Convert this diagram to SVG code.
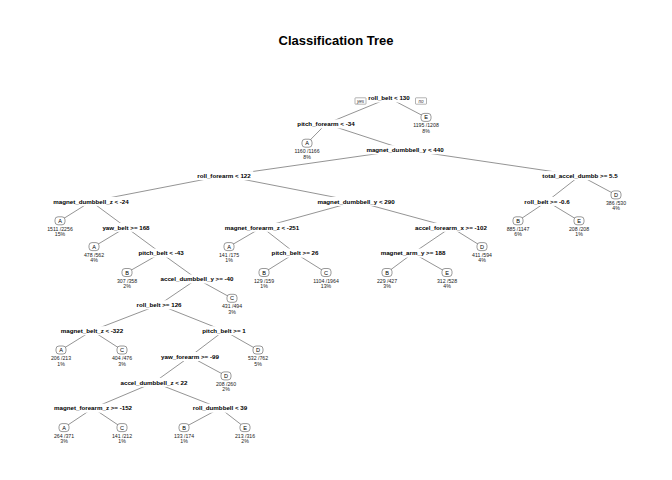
<svg xmlns="http://www.w3.org/2000/svg" width="672" height="480" viewBox="0 0 672 480">
  <style>
    .title { font: bold 13px "Liberation Sans", Arial, sans-serif; text-anchor: middle; fill: #000; }
    .edge { stroke: #666; stroke-width: 0.7; fill: none; }
    .mask { fill: #fff; }
    .split { font: bold 6.2px "Liberation Sans", Arial, sans-serif; text-anchor: middle; fill: #000; }
    .box { fill: #fff; stroke: #555; stroke-width: 0.6; }
    .cls { font: 5.6px "Liberation Sans", Arial, sans-serif; text-anchor: middle; fill: #000; }
    .info { font: 5.2px "Liberation Sans", Arial, sans-serif; text-anchor: middle; fill: #222; }
    .yn { fill: #fff; stroke: #666; stroke-width: 0.5; }
    .yntext { font: italic 4.6px "Liberation Sans", Arial, sans-serif; text-anchor: middle; fill: #333; }
  </style>

  <rect width="672" height="480" fill="#fff"/>
  <text class="title" x="336" y="45">Classification Tree</text>

  <!-- branches: centre to centre, hidden under the label backgrounds -->
  <g id="connectors">
    <line class="edge" x1="389" y1="98" x2="326" y2="123.9"/>
    <line class="edge" x1="389" y1="98" x2="426" y2="117.4"/>
    <line class="edge" x1="326" y1="123.9" x2="307" y2="143.2"/>
    <line class="edge" x1="326" y1="123.9" x2="405" y2="149.7"/>
    <line class="edge" x1="405" y1="149.7" x2="224" y2="175.6"/>
    <line class="edge" x1="405" y1="149.7" x2="580" y2="175.6"/>
    <line class="edge" x1="224" y1="175.6" x2="91" y2="201.4"/>
    <line class="edge" x1="224" y1="175.6" x2="356" y2="201.4"/>
    <line class="edge" x1="580" y1="175.6" x2="547" y2="201.4"/>
    <line class="edge" x1="580" y1="175.6" x2="616" y2="194.9"/>
    <line class="edge" x1="91" y1="201.4" x2="60" y2="220.8"/>
    <line class="edge" x1="91" y1="201.4" x2="126" y2="227.3"/>
    <line class="edge" x1="356" y1="201.4" x2="262" y2="227.3"/>
    <line class="edge" x1="356" y1="201.4" x2="451" y2="227.3"/>
    <line class="edge" x1="547" y1="201.4" x2="518" y2="220.8"/>
    <line class="edge" x1="547" y1="201.4" x2="579" y2="220.8"/>
    <line class="edge" x1="126" y1="227.3" x2="94" y2="246.6"/>
    <line class="edge" x1="126" y1="227.3" x2="161" y2="253.1"/>
    <line class="edge" x1="262" y1="227.3" x2="229" y2="246.6"/>
    <line class="edge" x1="262" y1="227.3" x2="295" y2="253.1"/>
    <line class="edge" x1="451" y1="227.3" x2="413" y2="253.1"/>
    <line class="edge" x1="451" y1="227.3" x2="482" y2="246.6"/>
    <line class="edge" x1="161" y1="253.1" x2="127" y2="272.5"/>
    <line class="edge" x1="161" y1="253.1" x2="197" y2="279"/>
    <line class="edge" x1="295" y1="253.1" x2="264" y2="272.5"/>
    <line class="edge" x1="295" y1="253.1" x2="326" y2="272.5"/>
    <line class="edge" x1="413" y1="253.1" x2="387" y2="272.5"/>
    <line class="edge" x1="413" y1="253.1" x2="447" y2="272.5"/>
    <line class="edge" x1="197" y1="279" x2="159" y2="304.8"/>
    <line class="edge" x1="197" y1="279" x2="232" y2="298.3"/>
    <line class="edge" x1="159" y1="304.8" x2="92" y2="330.7"/>
    <line class="edge" x1="159" y1="304.8" x2="224" y2="330.7"/>
    <line class="edge" x1="92" y1="330.7" x2="61" y2="350"/>
    <line class="edge" x1="92" y1="330.7" x2="122" y2="350"/>
    <line class="edge" x1="224" y1="330.7" x2="190" y2="356.5"/>
    <line class="edge" x1="224" y1="330.7" x2="258" y2="350"/>
    <line class="edge" x1="190" y1="356.5" x2="154" y2="382.4"/>
    <line class="edge" x1="190" y1="356.5" x2="226" y2="375.9"/>
    <line class="edge" x1="154" y1="382.4" x2="93" y2="408.2"/>
    <line class="edge" x1="154" y1="382.4" x2="220" y2="408.2"/>
    <line class="edge" x1="93" y1="408.2" x2="64" y2="427.6"/>
    <line class="edge" x1="93" y1="408.2" x2="122" y2="427.6"/>
    <line class="edge" x1="220" y1="408.2" x2="184" y2="427.6"/>
    <line class="edge" x1="220" y1="408.2" x2="245" y2="427.6"/>
  </g>

  <!-- split nodes -->
  <g id="split-roll-belt-130"><rect class="mask" x="365.75" y="93.5" width="46.5" height="9"/><text class="split" x="389" y="100.2">roll_belt &lt; 130</text></g>
  <g id="split-pitch-forearm"><rect class="mask" x="294.8" y="119.4" width="62.4" height="9"/><text class="split" x="326" y="126.1">pitch_forearm &lt; -34</text></g>
  <g id="split-magnet-dumbbell-y-440"><rect class="mask" x="363.8" y="145.2" width="82.4" height="9"/><text class="split" x="405" y="151.9">magnet_dumbbell_y &lt; 440</text></g>
  <g id="split-roll-forearm"><rect class="mask" x="194.7" y="171.1" width="58.6" height="9"/><text class="split" x="224" y="177.8">roll_forearm &lt; 122</text></g>
  <g id="split-total-accel"><rect class="mask" x="539.75" y="171.1" width="80.5" height="9"/><text class="split" x="580" y="177.8">total_accel_dumbb &gt;= 5.5</text></g>
  <g id="split-magnet-dumbbell-z"><rect class="mask" x="50.7" y="196.9" width="80.6" height="9"/><text class="split" x="91" y="203.6">magnet_dumbbell_z &lt; -24</text></g>
  <g id="split-magnet-dumbbell-y-290"><rect class="mask" x="314.8" y="196.9" width="82.4" height="9"/><text class="split" x="356" y="203.6">magnet_dumbbell_y &lt; 290</text></g>
  <g id="split-roll-belt-neg"><rect class="mask" x="521.75" y="196.9" width="50.5" height="9"/><text class="split" x="547" y="203.6">roll_belt &gt;= -0.6</text></g>
  <g id="split-yaw-belt"><rect class="mask" x="99.9" y="222.8" width="52.2" height="9"/><text class="split" x="126" y="229.5">yaw_belt &gt;= 168</text></g>
  <g id="split-magnet-forearm-z-251"><rect class="mask" x="222.2" y="222.8" width="79.6" height="9"/><text class="split" x="262" y="229.5">magnet_forearm_z &lt; -251</text></g>
  <g id="split-accel-forearm-x"><rect class="mask" x="412.5" y="222.8" width="77" height="9"/><text class="split" x="451" y="229.5">accel_forearm_x &gt;= -102</text></g>
  <g id="split-pitch-belt-43"><rect class="mask" x="135.85" y="248.6" width="50.3" height="9"/><text class="split" x="161" y="255.3">pitch_belt &lt; -43</text></g>
  <g id="split-pitch-belt-26"><rect class="mask" x="269.05" y="248.6" width="51.9" height="9"/><text class="split" x="295" y="255.3">pitch_belt &gt;= 26</text></g>
  <g id="split-magnet-arm-y"><rect class="mask" x="378.1" y="248.6" width="69.8" height="9"/><text class="split" x="413" y="255.3">magnet_arm_y &gt;= 188</text></g>
  <g id="split-accel-dumbbell-y"><rect class="mask" x="157.95" y="274.5" width="78.1" height="9"/><text class="split" x="197" y="281.2">accel_dumbbell_y &gt;= -40</text></g>
  <g id="split-roll-belt-126"><rect class="mask" x="133.95" y="300.3" width="50.1" height="9"/><text class="split" x="159" y="307">roll_belt &gt;= 126</text></g>
  <g id="split-magnet-belt-z"><rect class="mask" x="58.25" y="326.2" width="67.5" height="9"/><text class="split" x="92" y="332.9">magnet_belt_z &lt; -322</text></g>
  <g id="split-pitch-belt-1"><rect class="mask" x="199.8" y="326.2" width="48.4" height="9"/><text class="split" x="224" y="332.9">pitch_belt &gt;= 1</text></g>
  <g id="split-yaw-forearm"><rect class="mask" x="158.55" y="352" width="62.9" height="9"/><text class="split" x="190" y="358.7">yaw_forearm &gt;= -99</text></g>
  <g id="split-accel-dumbbell-z"><rect class="mask" x="118" y="377.9" width="72" height="9"/><text class="split" x="154" y="384.6">accel_dumbbell_z &lt; 22</text></g>
  <g id="split-magnet-forearm-z-152"><rect class="mask" x="51.4" y="403.7" width="83.2" height="9"/><text class="split" x="93" y="410.4">magnet_forearm_z &gt;= -152</text></g>
  <g id="split-roll-dumbbell"><rect class="mask" x="190.2" y="403.7" width="59.6" height="9"/><text class="split" x="220" y="410.4">roll_dumbbell &lt; 39</text></g>

  <!-- yes / no tags beside the root -->
  <g id="tag-yes"><rect class="yn" x="355" y="97.8" width="11" height="6.4" rx="0.6"/><text class="yntext" x="360.5" y="102.6">yes</text></g>
  <g id="tag-no"><rect class="yn" x="415.5" y="97.8" width="11" height="6.4" rx="0.6"/><text class="yntext" x="421" y="102.6">no</text></g>

  <!-- leaves: class box with counts and share underneath -->
  <g id="leaf-1"><rect class="box" x="421" y="113.4" width="10" height="8" rx="3"/><text class="cls" x="426" y="119.4">E</text><text class="info" x="426" y="127.4">1195 /1208</text><text class="info" x="426" y="132.9">8%</text></g>
  <g id="leaf-2"><rect class="box" x="302" y="139.2" width="10" height="8" rx="3"/><text class="cls" x="307" y="145.2">A</text><text class="info" x="307" y="153.2">1160 /1166</text><text class="info" x="307" y="158.7">8%</text></g>
  <g id="leaf-3"><rect class="box" x="611" y="190.9" width="10" height="8" rx="3"/><text class="cls" x="616" y="196.9">D</text><text class="info" x="616" y="204.9">386 /530</text><text class="info" x="616" y="210.4">4%</text></g>
  <g id="leaf-4"><rect class="box" x="55" y="216.8" width="10" height="8" rx="3"/><text class="cls" x="60" y="222.8">A</text><text class="info" x="60" y="230.8">1511 /2256</text><text class="info" x="60" y="236.3">15%</text></g>
  <g id="leaf-5"><rect class="box" x="513" y="216.8" width="10" height="8" rx="3"/><text class="cls" x="518" y="222.8">B</text><text class="info" x="518" y="230.8">885 /1147</text><text class="info" x="518" y="236.3">6%</text></g>
  <g id="leaf-6"><rect class="box" x="574" y="216.8" width="10" height="8" rx="3"/><text class="cls" x="579" y="222.8">E</text><text class="info" x="579" y="230.8">208 /208</text><text class="info" x="579" y="236.3">1%</text></g>
  <g id="leaf-7"><rect class="box" x="89" y="242.6" width="10" height="8" rx="3"/><text class="cls" x="94" y="248.6">A</text><text class="info" x="94" y="256.6">478 /562</text><text class="info" x="94" y="262.1">4%</text></g>
  <g id="leaf-8"><rect class="box" x="224" y="242.6" width="10" height="8" rx="3"/><text class="cls" x="229" y="248.6">A</text><text class="info" x="229" y="256.6">141 /175</text><text class="info" x="229" y="262.1">1%</text></g>
  <g id="leaf-9"><rect class="box" x="477" y="242.6" width="10" height="8" rx="3"/><text class="cls" x="482" y="248.6">D</text><text class="info" x="482" y="256.6">411 /594</text><text class="info" x="482" y="262.1">4%</text></g>
  <g id="leaf-10"><rect class="box" x="122" y="268.5" width="10" height="8" rx="3"/><text class="cls" x="127" y="274.5">B</text><text class="info" x="127" y="282.5">307 /358</text><text class="info" x="127" y="288">2%</text></g>
  <g id="leaf-11"><rect class="box" x="259" y="268.5" width="10" height="8" rx="3"/><text class="cls" x="264" y="274.5">B</text><text class="info" x="264" y="282.5">129 /159</text><text class="info" x="264" y="288">1%</text></g>
  <g id="leaf-12"><rect class="box" x="321" y="268.5" width="10" height="8" rx="3"/><text class="cls" x="326" y="274.5">C</text><text class="info" x="326" y="282.5">1104 /1964</text><text class="info" x="326" y="288">13%</text></g>
  <g id="leaf-13"><rect class="box" x="382" y="268.5" width="10" height="8" rx="3"/><text class="cls" x="387" y="274.5">B</text><text class="info" x="387" y="282.5">229 /427</text><text class="info" x="387" y="288">3%</text></g>
  <g id="leaf-14"><rect class="box" x="442" y="268.5" width="10" height="8" rx="3"/><text class="cls" x="447" y="274.5">E</text><text class="info" x="447" y="282.5">312 /528</text><text class="info" x="447" y="288">4%</text></g>
  <g id="leaf-15"><rect class="box" x="227" y="294.3" width="10" height="8" rx="3"/><text class="cls" x="232" y="300.3">C</text><text class="info" x="232" y="308.3">431 /494</text><text class="info" x="232" y="313.8">3%</text></g>
  <g id="leaf-16"><rect class="box" x="56" y="346" width="10" height="8" rx="3"/><text class="cls" x="61" y="352">A</text><text class="info" x="61" y="360">206 /213</text><text class="info" x="61" y="365.5">1%</text></g>
  <g id="leaf-17"><rect class="box" x="117" y="346" width="10" height="8" rx="3"/><text class="cls" x="122" y="352">C</text><text class="info" x="122" y="360">404 /476</text><text class="info" x="122" y="365.5">3%</text></g>
  <g id="leaf-18"><rect class="box" x="253" y="346" width="10" height="8" rx="3"/><text class="cls" x="258" y="352">D</text><text class="info" x="258" y="360">532 /762</text><text class="info" x="258" y="365.5">5%</text></g>
  <g id="leaf-19"><rect class="box" x="221" y="371.9" width="10" height="8" rx="3"/><text class="cls" x="226" y="377.9">D</text><text class="info" x="226" y="385.9">208 /260</text><text class="info" x="226" y="391.4">2%</text></g>
  <g id="leaf-20"><rect class="box" x="59" y="423.6" width="10" height="8" rx="3"/><text class="cls" x="64" y="429.6">A</text><text class="info" x="64" y="437.6">264 /371</text><text class="info" x="64" y="443.1">3%</text></g>
  <g id="leaf-21"><rect class="box" x="117" y="423.6" width="10" height="8" rx="3"/><text class="cls" x="122" y="429.6">C</text><text class="info" x="122" y="437.6">141 /212</text><text class="info" x="122" y="443.1">1%</text></g>
  <g id="leaf-22"><rect class="box" x="179" y="423.6" width="10" height="8" rx="3"/><text class="cls" x="184" y="429.6">B</text><text class="info" x="184" y="437.6">133 /174</text><text class="info" x="184" y="443.1">1%</text></g>
  <g id="leaf-23"><rect class="box" x="240" y="423.6" width="10" height="8" rx="3"/><text class="cls" x="245" y="429.6">E</text><text class="info" x="245" y="437.6">213 /316</text><text class="info" x="245" y="443.1">2%</text></g>
</svg>
